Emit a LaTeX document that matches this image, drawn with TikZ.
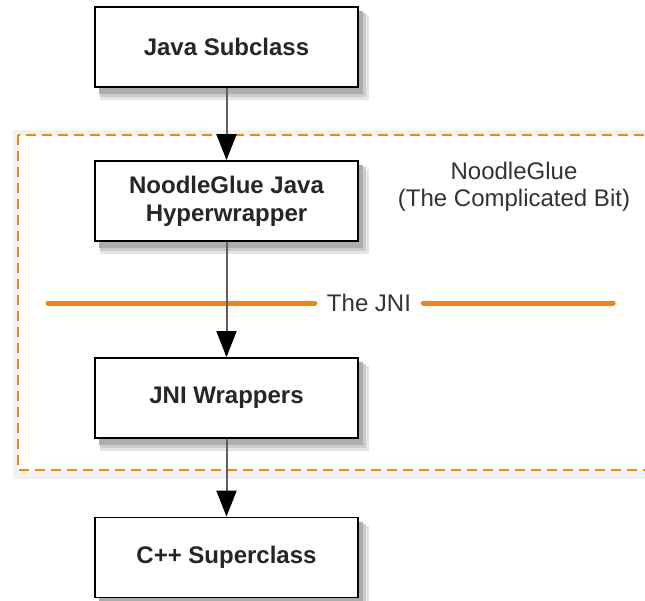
\documentclass[tikz,border=0pt]{standalone}
\usepackage{fontspec}
\setmainfont{Liberation Sans}
\usetikzlibrary{arrows.meta}

\definecolor{glueorange}{RGB}{245,130,20}
\definecolor{arrowgray}{RGB}{95,95,95}

\tikzset{
  classbox/.style={draw=black, line width=1.8pt, fill=white, minimum width=263pt,
    minimum height=80pt, align=center, text=black!85, font=\fontsize{24}{28}\selectfont\bfseries},
  calls/.style={draw=arrowgray, line width=2pt, -{Triangle[width=20pt,length=26pt,black]}},
  jniline/.style={draw=glueorange, line width=5pt, line cap=round},
  plain/.style={align=center, text=black!80, font=\fontsize{24}{27}\selectfont}
}

\begin{document}
\begin{tikzpicture}[x=1pt,y=-1pt]
\useasboundingbox (0,0) rectangle (645,600);
% the glue region:
\fill[black!5] (13,130) rectangle (665,479);
\draw[glueorange, line width=1.8pt, dash pattern=on 10pt off 6pt, fill=white]
  (18,135) rectangle (660,470);
% shadows:
\foreach \ymid in {47,201,398,557.5} {
  \fill[black!10] (100,\ymid-32) rectangle (369,\ymid+53);
  \fill[black!20] (100,\ymid-34) rectangle (366,\ymid+50);
  \fill[black!32] (99,\ymid-36) rectangle (363,\ymid+47);
}
% boxes:
\node[classbox] (java) at (226.5,47) {Java Subclass};
\node[classbox] (glue) at (226.5,201) {NoodleGlue Java\\Hyperwrapper};
\node[classbox] (wrap) at (226.5,398) {JNI Wrappers};
\node[classbox] (cpp) at (226.5,557.5) {C++ Superclass};
\node[plain] (gluelabel) at (514,187) {NoodleGlue\\(The Complicated Bit)};
% the JNI line:
\node[plain, minimum width=108pt, inner sep=0pt] (jni) at (369,303) {The JNI};
\coordinate (jniL) at (48,303);
\coordinate (jniR) at (613,303);
\draw[jniline] (jniL) -- (jni.west);
\draw[jniline] (jni.east) -- (jniR);
% calls:
\draw[calls] (java) -- (glue);
\draw[calls] (glue) -- (wrap);
\draw[calls] (wrap) -- (cpp);
\end{tikzpicture}
\end{document}
